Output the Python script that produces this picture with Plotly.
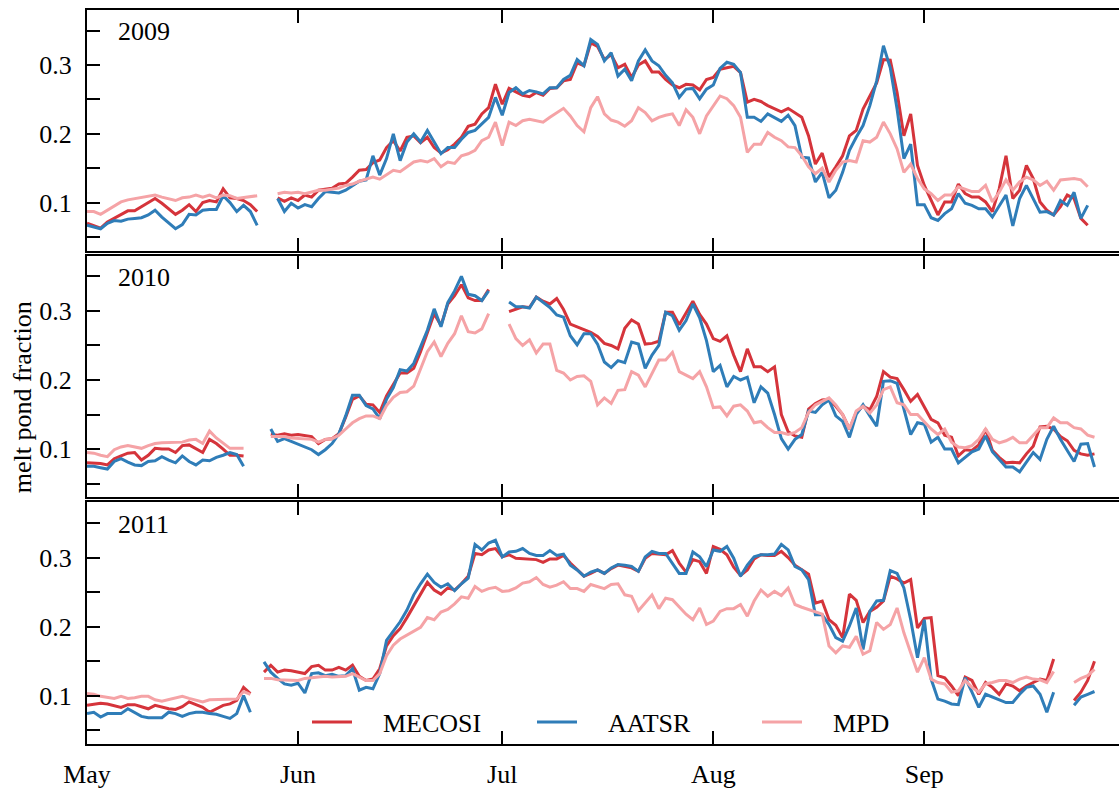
import plotly.graph_objects as go
import pandas as pd

# ---------------- data (daily values, day 0 = 1 May) ----------------
YEARS = [2009, 2010, 2011]
N_DAYS = 149
MONTH_LABELS = ["May", "Jun", "Jul", "Aug", "Sep"]
MONTH_NUMBERS = [5, 6, 7, 8, 9]
Y_TICKS = [0.05, 0.10, 0.15, 0.20, 0.25, 0.30, 0.35]
Y_TICK_TEXT = ["", "0.1", "", "0.2", "", "0.3", ""]
SERIES_NAMES = ["MECOSI", "AATSR", "MPD"]

MECOSI_2009 = [0.070, 0.067, 0.063, 0.072, 0.077, 0.082, 0.088, 0.088, 0.094, 0.100, 0.106, 0.099, 0.091, 0.083, 0.089, 0.097, 0.087, 0.100, 0.103, 0.101, 0.120, 0.107, 0.106, 0.103, 0.097, 0.087,
               None, None,
               0.107, 0.102, 0.107, 0.103, 0.111, 0.108, 0.118, 0.120, 0.121, 0.127, 0.128, 0.137, 0.147, 0.148,
               0.158, 0.162, 0.180, 0.190, 0.175, 0.195, 0.197, 0.187, 0.195, 0.180, 0.172, 0.177, 0.185, 0.195,
               0.211, 0.214, 0.229, 0.238, 0.272, 0.243, 0.266, 0.261, 0.256, 0.254, 0.260, 0.256, 0.266, 0.267, 0.277, 0.279, 0.303, 0.299, 0.332, 0.327, 0.308, 0.315, 0.296, 0.301, 0.282, 0.300, 0.306, 0.290, 0.290, 0.279, 0.271, 0.267, 0.272, 0.271, 0.264, 0.279, 0.282, 0.294, 0.296, 0.298, 0.289, 0.246, 0.250, 0.247, 0.241, 0.236, 0.232, 0.237, 0.231,
               0.224, 0.197, 0.156, 0.172, 0.137, 0.152, 0.168, 0.197, 0.205, 0.236, 0.255, 0.274, 0.308, 0.307, 0.260, 0.197, 0.229, 0.154, 0.125, 0.103, 0.082, 0.101, 0.101, 0.127, 0.113, 0.108, 0.108, 0.101, 0.087, 0.120, 0.168, 0.106, 0.118, 0.154, 0.135, 0.101, 0.089, 0.082, 0.094, 0.111, 0.106, 0.077, 0.067,
               None]
AATSR_2009 = [0.067, 0.065, 0.062, 0.070, 0.074, 0.073, 0.076, 0.077, 0.078, 0.082, 0.089, 0.079, 0.070, 0.062, 0.068, 0.083, 0.082, 0.089, 0.090, 0.090, 0.110, 0.100, 0.087, 0.096, 0.087, 0.067,
              None, None,
              0.106, 0.087, 0.099, 0.092, 0.097, 0.094, 0.106, 0.116, 0.115, 0.114, 0.118, 0.125, 0.131, 0.133, 0.168, 0.140, 0.164, 0.200, 0.161, 0.188, 0.200, 0.188, 0.205, 0.188, 0.171, 0.180, 0.180, 0.192,
              0.202, 0.205, 0.214, 0.224, 0.253, 0.227, 0.260, 0.267, 0.258, 0.263, 0.261, 0.258, 0.267, 0.267, 0.279, 0.285, 0.308, 0.299, 0.337, 0.330, 0.306, 0.318, 0.284, 0.294, 0.277, 0.306, 0.322, 0.306, 0.299, 0.285, 0.274, 0.253, 0.265, 0.266, 0.251, 0.265, 0.271, 0.295, 0.304, 0.301, 0.289, 0.224, 0.224, 0.218, 0.229, 0.224, 0.218, 0.227, 0.212,
              0.166, 0.165, 0.130, 0.144, 0.107, 0.118, 0.144, 0.176, 0.195, 0.212, 0.241, 0.277, 0.328, 0.296, 0.236, 0.164, 0.185, 0.097, 0.097, 0.078, 0.074, 0.084, 0.091, 0.113, 0.099, 0.096, 0.091, 0.091, 0.079, 0.096, 0.111, 0.066, 0.106, 0.125, 0.106, 0.086, 0.087, 0.082, 0.103, 0.096, 0.115, 0.077, 0.096,
              None]
MPD_2009 = [0.087, 0.087, 0.083, 0.089, 0.096, 0.101, 0.104, 0.106, 0.108, 0.109, 0.111, 0.108, 0.106, 0.103, 0.107, 0.108, 0.111, 0.108, 0.111, 0.107, 0.111, 0.110, 0.106, 0.107, 0.108, 0.110,
            None, None,
            0.113, 0.115, 0.114, 0.115, 0.113, 0.115, 0.118, 0.118, 0.120, 0.121, 0.125, 0.127, 0.131, 0.134, 0.137, 0.134, 0.140, 0.147, 0.145, 0.152, 0.159, 0.161, 0.159, 0.164, 0.152, 0.159, 0.157, 0.168,
            0.171, 0.176, 0.190, 0.195, 0.217, 0.183, 0.217, 0.212, 0.219, 0.221, 0.219, 0.217, 0.224, 0.230, 0.237, 0.226, 0.212, 0.203, 0.238, 0.254, 0.229, 0.220, 0.217, 0.211, 0.219, 0.238, 0.231, 0.219, 0.224, 0.227, 0.229, 0.212, 0.235, 0.224, 0.200, 0.226, 0.241, 0.255, 0.251, 0.241, 0.224, 0.173, 0.185, 0.185, 0.202, 0.195, 0.190, 0.181, 0.180,
            0.168, 0.152, 0.142, 0.150, 0.130, 0.147, 0.159, 0.161, 0.159, 0.190, 0.188, 0.195, 0.217, 0.200, 0.178, 0.144, 0.156, 0.135, 0.120, 0.113, 0.103, 0.111, 0.111, 0.123, 0.120, 0.116, 0.116, 0.125, 0.101, 0.115, 0.133, 0.118, 0.130, 0.137, 0.133, 0.125, 0.131, 0.118, 0.133, 0.134, 0.135, 0.133, 0.123,
            None]

MECOSI_2010 = [0.080, 0.080, 0.079, 0.077, 0.086, 0.090, 0.094, 0.095, 0.084, 0.091, 0.101, 0.100, 0.100, 0.095, 0.105, 0.106, 0.101, 0.095, 0.114, 0.108, 0.100, 0.091, 0.091, 0.090,
               None, None, None,
               0.121, 0.120, 0.122, 0.120, 0.121, 0.120, 0.118, 0.108, 0.114, 0.115, 0.122, 0.146, 0.172, 0.177, 0.165, 0.164, 0.153, 0.177, 0.194, 0.210, 0.210, 0.217, 0.241, 0.267, 0.296, 0.279, 0.310, 0.322, 0.338, 0.319, 0.315, 0.315, 0.331,
               None, None,
               0.299, 0.302, 0.306, 0.305, 0.320, 0.314, 0.310, 0.318, 0.302, 0.281, 0.277, 0.274, 0.269, 0.263, 0.253, 0.250, 0.245, 0.275, 0.287, 0.281, 0.252, 0.253, 0.256, 0.298, 0.298, 0.280, 0.298, 0.314, 0.295, 0.281, 0.260, 0.256, 0.264, 0.236, 0.212, 0.245, 0.219, 0.219, 0.212, 0.219, 0.150, 0.125, 0.119,
               0.117, 0.158, 0.166, 0.171, 0.172, 0.162, 0.150, 0.129, 0.153, 0.162, 0.157, 0.176, 0.212, 0.204, 0.202, 0.186, 0.169, 0.179, 0.162, 0.143, 0.138, 0.120, 0.117, 0.090, 0.099, 0.098, 0.106, 0.129, 0.098, 0.088, 0.080, 0.081, 0.080, 0.093, 0.104, 0.132, 0.133, 0.129, 0.118, 0.112, 0.098, 0.093, 0.091, 0.093]
AATSR_2010 = [0.075, 0.075, 0.073, 0.071, 0.082, 0.086, 0.081, 0.077, 0.076, 0.082, 0.083, 0.089, 0.084, 0.080, 0.090, 0.082, 0.077, 0.084, 0.083, 0.088, 0.091, 0.095, 0.092, 0.075,
              None, None, None,
              0.129, 0.111, 0.115, 0.111, 0.108, 0.103, 0.099, 0.092, 0.099, 0.108, 0.122, 0.148, 0.178, 0.178, 0.163, 0.158, 0.144, 0.172, 0.189, 0.215, 0.213, 0.224, 0.248, 0.272, 0.303, 0.277, 0.312, 0.329, 0.350, 0.324, 0.322, 0.315, 0.329,
              None, None,
              0.313, 0.306, 0.306, 0.304, 0.320, 0.313, 0.305, 0.294, 0.291, 0.264, 0.251, 0.267, 0.267, 0.252, 0.226, 0.218, 0.228, 0.225, 0.255, 0.252, 0.217, 0.236, 0.250, 0.298, 0.293, 0.272, 0.286, 0.310, 0.290, 0.257, 0.212, 0.221, 0.190, 0.205, 0.200, 0.204, 0.167, 0.190, 0.181, 0.150, 0.115, 0.100, 0.114,
              0.121, 0.155, 0.153, 0.164, 0.171, 0.148, 0.140, 0.117, 0.150, 0.164, 0.148, 0.133, 0.198, 0.199, 0.195, 0.157, 0.121, 0.138, 0.136, 0.110, 0.117, 0.100, 0.100, 0.080, 0.088, 0.096, 0.100, 0.119, 0.096, 0.085, 0.074, 0.074, 0.067, 0.081, 0.095, 0.085, 0.114, 0.133, 0.114, 0.098, 0.082, 0.107, 0.108, 0.074]
MPD_2010 = [0.095, 0.094, 0.091, 0.089, 0.099, 0.103, 0.105, 0.103, 0.101, 0.105, 0.108, 0.109, 0.109, 0.110, 0.110, 0.113, 0.114, 0.108, 0.126, 0.116, 0.108, 0.101, 0.101, 0.101,
            None, None, None,
            0.118, 0.118, 0.118, 0.116, 0.115, 0.115, 0.114, 0.110, 0.114, 0.115, 0.120, 0.129, 0.138, 0.144, 0.148, 0.148, 0.144, 0.163, 0.175, 0.182, 0.183, 0.191, 0.217, 0.241, 0.255, 0.234, 0.253, 0.267, 0.293, 0.270, 0.268, 0.274, 0.296,
            None, None,
            0.281, 0.260, 0.250, 0.258, 0.239, 0.252, 0.252, 0.214, 0.210, 0.200, 0.205, 0.206, 0.198, 0.164, 0.174, 0.166, 0.185, 0.186, 0.212, 0.207, 0.190, 0.209, 0.229, 0.229, 0.240, 0.212, 0.207, 0.202, 0.212, 0.190, 0.160, 0.161, 0.148, 0.162, 0.164, 0.155, 0.138, 0.140, 0.131, 0.124, 0.124, 0.121, 0.124,
            0.131, 0.153, 0.164, 0.169, 0.174, 0.164, 0.150, 0.129, 0.155, 0.162, 0.152, 0.164, 0.186, 0.190, 0.167, 0.164, 0.150, 0.150, 0.140, 0.129, 0.121, 0.129, 0.110, 0.103, 0.102, 0.105, 0.114, 0.129, 0.114, 0.109, 0.112, 0.117, 0.109, 0.109, 0.120, 0.131, 0.131, 0.145, 0.138, 0.138, 0.131, 0.129, 0.120, 0.117]

MECOSI_2011 = [0.086, 0.088, 0.089, 0.088, 0.086, 0.083, 0.087, 0.087, 0.084, 0.081, 0.086, 0.083, 0.081, 0.080, 0.084, 0.091, 0.087, 0.083, 0.076, 0.081, 0.086, 0.088, 0.093, 0.112, 0.103,
               None,
               0.134, 0.144, 0.134, 0.137, 0.136, 0.134, 0.132, 0.142, 0.144, 0.137, 0.137, 0.141, 0.137, 0.144, 0.128, 0.122, 0.124, 0.139, 0.172, 0.187, 0.197, 0.213, 0.230, 0.248, 0.264, 0.253, 0.247, 0.256, 0.253, 0.262,
               0.273, 0.306, 0.304, 0.311, 0.313, 0.301, 0.304, 0.299, 0.298, 0.297, 0.297, 0.293, 0.298, 0.298, 0.303, 0.292, 0.282, 0.273, 0.277, 0.282, 0.277, 0.284, 0.289, 0.287, 0.285, 0.280, 0.299, 0.306, 0.305, 0.304, 0.310, 0.292, 0.279, 0.297, 0.294, 0.277, 0.316, 0.312, 0.304, 0.286, 0.274, 0.282, 0.298, 0.304, 0.303, 0.303, 0.309, 0.300, 0.289,
               0.282, 0.276, 0.234, 0.237, 0.210, 0.202, 0.184, 0.247, 0.238, 0.206, 0.222, 0.228, 0.237, 0.273, 0.269, 0.263, 0.268, 0.198, 0.212, 0.213, 0.129, 0.126, 0.114, 0.100, 0.127, 0.122, 0.102, 0.119, 0.112, 0.102, 0.117, 0.114, 0.107, 0.114, 0.119, 0.124, 0.122, 0.153,
               None, None,
               0.093, 0.105, 0.122, 0.150]
AATSR_2011 = [0.074, 0.076, 0.069, 0.074, 0.074, 0.074, 0.081, 0.076, 0.070, 0.068, 0.068, 0.068, 0.076, 0.074, 0.070, 0.074, 0.076, 0.076, 0.074, 0.073, 0.070, 0.067, 0.074, 0.100, 0.076,
              None,
              0.149, 0.134, 0.125, 0.117, 0.115, 0.118, 0.104, 0.132, 0.133, 0.129, 0.131, 0.128, 0.129, 0.139, 0.108, 0.112, 0.110, 0.132, 0.180, 0.194, 0.207, 0.224, 0.246, 0.262, 0.276, 0.264, 0.257, 0.262, 0.252, 0.262,
              0.270, 0.319, 0.311, 0.321, 0.325, 0.301, 0.308, 0.309, 0.313, 0.306, 0.303, 0.303, 0.310, 0.303, 0.305, 0.289, 0.282, 0.273, 0.279, 0.282, 0.277, 0.285, 0.290, 0.289, 0.287, 0.280, 0.301, 0.309, 0.306, 0.306, 0.292, 0.277, 0.277, 0.308, 0.301, 0.287, 0.311, 0.309, 0.316, 0.299, 0.273, 0.289, 0.301, 0.304, 0.304, 0.305, 0.319, 0.311, 0.287,
              0.282, 0.268, 0.217, 0.217, 0.203, 0.184, 0.179, 0.201, 0.227, 0.167, 0.222, 0.237, 0.238, 0.281, 0.277, 0.256, 0.210, 0.155, 0.210, 0.124, 0.095, 0.092, 0.088, 0.087, 0.126, 0.105, 0.083, 0.102, 0.098, 0.095, 0.090, 0.090, 0.102, 0.112, 0.114, 0.102, 0.076, 0.105,
              None, None,
              0.086, 0.098, 0.102, 0.106]
MPD_2011 = [0.103, 0.102, 0.099, 0.097, 0.096, 0.099, 0.096, 0.097, 0.099, 0.099, 0.094, 0.092, 0.094, 0.097, 0.099, 0.096, 0.094, 0.091, 0.094, 0.094, 0.094, 0.095, 0.095, 0.106, 0.102,
            None,
            0.125, 0.125, 0.123, 0.123, 0.123, 0.122, 0.125, 0.126, 0.127, 0.128, 0.127, 0.128, 0.128, 0.132, 0.127, 0.122, 0.122, 0.132,
            0.158, 0.173, 0.182, 0.188, 0.193, 0.199, 0.213, 0.210, 0.221, 0.225, 0.233, 0.243,
            0.241, 0.258, 0.251, 0.255, 0.257, 0.251, 0.252, 0.256, 0.263, 0.265, 0.271, 0.261, 0.257, 0.260, 0.265, 0.255, 0.255, 0.251, 0.261, 0.258, 0.255, 0.261, 0.262, 0.246, 0.244, 0.223, 0.234, 0.246, 0.226, 0.241, 0.239, 0.229, 0.218, 0.210, 0.227, 0.203, 0.208, 0.222, 0.226, 0.226, 0.232, 0.215, 0.237, 0.253, 0.244, 0.251, 0.245, 0.256, 0.232,
            0.228, 0.225, 0.222, 0.218, 0.172, 0.162, 0.172, 0.170, 0.186, 0.160, 0.165, 0.206, 0.196, 0.203, 0.227, 0.191, 0.162, 0.134, 0.155, 0.124, 0.119, 0.117, 0.105, 0.107, 0.122, 0.112, 0.105, 0.117, 0.119, 0.122, 0.122, 0.119, 0.124, 0.127, 0.124, 0.123, 0.119, 0.135,
            None, None,
            0.119, 0.125, 0.129, 0.138]

DATA = {
    2009: [MECOSI_2009, AATSR_2009, MPD_2009],
    2010: [MECOSI_2010, AATSR_2010, MPD_2010],
    2011: [MECOSI_2011, AATSR_2011, MPD_2011],
}

# ---------------- styling ----------------
COLORS = ["#d5343b", "#2f7db8", "#f5a3a6"]
FONT = "Liberation Serif, Times New Roman, serif"
FS = 26
X_SPAN_DAYS = 151.6
Y_RANGE = [0.03, 0.38]
DOMAINS = [[0.672, 1.0], [0.336, 0.6653], [0.0, 0.3293]]
LEGEND_PAD = "\u00a0" * 4  # space between legend line sample and its label

fig = go.Figure()

for i, year in enumerate(YEARS):
    dates = pd.date_range(f"{year}-05-01", periods=N_DAYS, freq="D")
    ax = "" if i == 0 else str(i + 1)
    for j, (name, series) in enumerate(zip(SERIES_NAMES, DATA[year])):
        fig.add_trace(go.Scatter(
            x=dates, y=series, mode="lines", name=LEGEND_PAD + name,
            line=dict(color=COLORS[j], width=3),
            xaxis="x" + ax, yaxis="y" + ax,
            showlegend=(i == 2), connectgaps=False,
        ))

    start = pd.Timestamp(f"{year}-05-01")
    month_ticks = [pd.Timestamp(year=year, month=m, day=1) for m in MONTH_NUMBERS]
    fig.layout["xaxis" + ax] = dict(
        domain=[0, 1], anchor="y" + ax,
        range=[start, start + pd.Timedelta(days=X_SPAN_DAYS)],
        tickvals=month_ticks, ticktext=MONTH_LABELS,
        showticklabels=(i == 2),
        ticks="inside", ticklen=13, tickwidth=2, tickcolor="black",
        showline=True, linewidth=2, linecolor="black", mirror="allticks",
        showgrid=False, zeroline=False,
        tickfont=dict(family=FONT, size=FS, color="black"),
        ticklabelstandoff=6,
    )
    fig.layout["yaxis" + ax] = dict(
        domain=DOMAINS[i], anchor="x" + ax, range=Y_RANGE,
        tickvals=Y_TICKS, ticktext=Y_TICK_TEXT,
        ticks="inside", ticklen=13, tickwidth=2, tickcolor="black",
        showline=True, linewidth=2, linecolor="black", mirror=False,
        showgrid=False, zeroline=False,
        tickfont=dict(family=FONT, size=FS, color="black"),
        ticklabelstandoff=8,
    )
    # right-hand tick marks (the right frame edge lies just outside the picture)
    fig.layout["yaxis" + str(i + 4)] = dict(
        domain=DOMAINS[i], anchor="x" + ax, overlaying="y" + ax, side="right",
        range=Y_RANGE, tickvals=Y_TICKS, showticklabels=False,
        ticks="inside", ticklen=6, tickwidth=2, tickcolor="black",
        showline=False, showgrid=False, zeroline=False,
    )
    top_px = [10, 258, 507][i]
    fig.add_annotation(
        text=str(year), xref="paper", yref="paper",
        x=(116 - 87) / 1032, y=(751 - (top_px + 22)) / 741,
        xanchor="left", yanchor="middle", showarrow=False,
        font=dict(family=FONT, size=FS, color="black"),
    )

fig.add_annotation(
    text="melt pond fraction", xref="paper", yref="paper",
    x=(22 - 87) / 1032, y=(751 - 401) / 741, textangle=-90,
    xanchor="center", yanchor="middle", showarrow=False,
    font=dict(family=FONT, size=FS, color="black"),
)

fig.update_layout(
    width=1119, height=789,
    margin=dict(l=87, r=0, t=10, b=38),
    paper_bgcolor="white", plot_bgcolor="white",
    font=dict(family=FONT, size=FS, color="black"),
    legend=dict(
        orientation="h", x=(307 - 87) / 1032, y=(751 - 729) / 741,
        xanchor="left", yanchor="middle",
        bgcolor="rgba(0,0,0,0)", borderwidth=0,
        font=dict(family=FONT, size=FS, color="black"),
        itemwidth=40, entrywidth=170, entrywidthmode="pixels",
    ),
)

fig.write_html("out.html")
